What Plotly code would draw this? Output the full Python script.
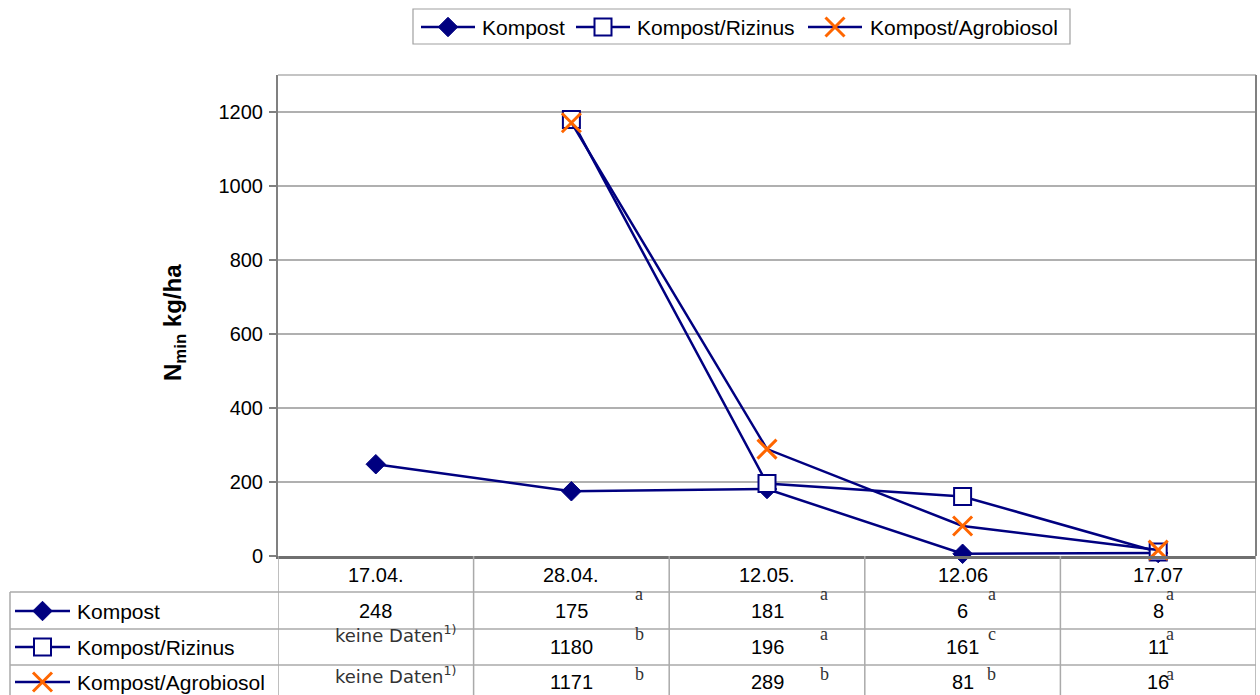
import plotly.graph_objects as go

# ---------------- data ----------------
dates = ["17.04.", "28.04.", "12.05.", "12.06", "17.07"]
series_names = ["Kompost", "Kompost/Rizinus", "Kompost/Agrobiosol"]
kompost = [248, 175, 181, 6, 8]
rizinus = [None, 1180, 196, 161, 11]
agrobiosol = [None, 1171, 289, 81, 16]
letters_kompost = [None, "a", "a", "a", "a"]
letters_rizinus = [None, "b", "a", "c", "a"]
letters_agrobiosol = [None, "b", "b", "b", "a"]
no_data_text = "keine Daten<sup>1)</sup>"
y_title = "<b>N<sub>min</sub> kg/ha</b>"
y_ticks = [0, 200, 400, 600, 800, 1000, 1200]

# ---------------- styling / layout helpers ----------------
W, H = 1260, 695          # design coordinates (target picture)
FIG_H = 706               # page is shown slightly compressed vertically
NAVY = "#000080"
ORANGE = "#FF6600"
GRID = "#b0b0b0"
TGRID = "#aaaaaa"
AXIS = "#808080"
FONT = "Liberation Sans, Arial, sans-serif"
SERIF = "Liberation Serif, Times New Roman, serif"


def px(x):
    return x / W


def py(y):
    return 1 - y / H


plot_left, plot_right, plot_top, plot_bottom = 278, 1256, 75, 556
row_lines = [592, 629, 665]
row_centers = [611, 647, 682]
sup_y = [594, 634, 674]
nodata_y = [None, 634, 675]
sup_dx = [0, 68, 57, 29, 12]  # pixel offset of significance letters per column
col_w = (plot_right - plot_left) / 5

values = [kompost, rizinus, agrobiosol]
letters = [letters_kompost, letters_rizinus, letters_agrobiosol]

marker_styles = [
    dict(symbol="diamond", size=15, color=NAVY, line=dict(color=NAVY, width=1)),
    dict(symbol="square", size=17, color="white", line=dict(color=NAVY, width=2)),
    dict(symbol="x-thin", size=19, color=ORANGE, line=dict(color=ORANGE, width=3)),
]

fig = go.Figure()

for name, vals, ms in zip(series_names, values, marker_styles):
    fig.add_trace(go.Scatter(
        x=list(range(len(dates))), y=vals, name=name,
        mode="lines+markers",
        line=dict(color=NAVY, width=2.5),
        marker=ms, cliponaxis=False, connectgaps=False, showlegend=False,
    ))

annotations = []
shapes = []

# ---- legend (top box) and table keys drawn on a pixel-coordinate overlay ----
legend_keys = [(421, 475, 480), (576, 630, 635), (808, 862, 868)]
legend_y = 27
shapes.append(dict(type="rect", xref="paper", yref="paper", x0=px(413), x1=px(1070),
                   y0=py(9), y1=py(44), line=dict(color="#a0a0a0", width=1.2),
                   fillcolor="white", layer="below"))


def key(x0, x1, yc, ms):
    fig.add_trace(go.Scatter(
        x=[x0, x1], y=[yc, yc], mode="lines", line=dict(color=NAVY, width=2.5),
        xaxis="x2", yaxis="y2", showlegend=False, hoverinfo="skip", cliponaxis=False,
    ))
    fig.add_trace(go.Scatter(
        x=[(x0 + x1) / 2], y=[yc], mode="markers", marker=ms,
        xaxis="x2", yaxis="y2", showlegend=False, hoverinfo="skip", cliponaxis=False,
    ))


for (x0, x1, tx), name, ms in zip(legend_keys, series_names, marker_styles):
    key(x0, x1, legend_y, ms)
    annotations.append(dict(x=px(tx), y=py(legend_y), xref="paper", yref="paper",
                            text=name, showarrow=False,
                            font=dict(family=FONT, size=21, color="black"),
                            xanchor="left", yanchor="middle"))

for i, (name, ms) in enumerate(zip(series_names, marker_styles)):
    key(15, 70, row_centers[i], ms)
    annotations.append(dict(x=px(75), y=py(row_centers[i]), xref="paper", yref="paper",
                            text=name, showarrow=False,
                            font=dict(family=FONT, size=21, color="black"),
                            xanchor="left", yanchor="middle"))

# y axis title
annotations.append(dict(x=px(175), y=py(323), xref="paper", yref="paper",
                        text=y_title, textangle=-90, showarrow=False,
                        font=dict(family=FONT, size=24, color="black"),
                        xanchor="center", yanchor="middle"))

# date header
for i, d in enumerate(dates):
    annotations.append(dict(x=i, y=py(575), xref="x", yref="paper", text=d,
                            showarrow=False, font=dict(family=FONT, size=20, color="black"),
                            xanchor="center", yanchor="middle"))

# table values
for r, (vals, lets) in enumerate(zip(values, letters)):
    for c, v in enumerate(vals):
        if v is None:
            annotations.append(dict(x=c + 20 / col_w, y=py(nodata_y[r]), xref="x", yref="paper",
                                    text=no_data_text, showarrow=False,
                                    font=dict(family="DejaVu Sans, sans-serif", size=18, color="#333333"),
                                    xanchor="center", yanchor="middle"))
        else:
            annotations.append(dict(x=c, y=py(row_centers[r]), xref="x", yref="paper",
                                    text=str(v), showarrow=False,
                                    font=dict(family=FONT, size=20, color="black"),
                                    xanchor="center", yanchor="middle"))
        if lets[c]:
            annotations.append(dict(x=c + sup_dx[c] / col_w, y=py(sup_y[r]), xref="x", yref="paper",
                                    text=lets[c], showarrow=False,
                                    font=dict(family=SERIF, size=18, color="#333333"),
                                    xanchor="center", yanchor="middle"))

# table grid
for k in range(6):
    shapes.append(dict(type="line", xref="x", yref="paper", x0=k - 0.5, x1=k - 0.5,
                       y0=py(plot_bottom), y1=0, line=dict(color=TGRID, width=1.5)))
for yl in row_lines:
    shapes.append(dict(type="line", xref="paper", yref="paper", x0=px(10), x1=px(plot_right),
                       y0=py(yl), y1=py(yl), line=dict(color=TGRID, width=1.5)))
shapes.append(dict(type="line", xref="paper", yref="paper", x0=px(10), x1=px(10),
                   y0=py(row_lines[0]), y1=0, line=dict(color=TGRID, width=1.5)))

# top (light) and right (darker) plot borders
shapes.append(dict(type="line", xref="paper", yref="paper", x0=px(plot_left), x1=px(plot_right),
                   y0=py(plot_top), y1=py(plot_top), line=dict(color=GRID, width=1.5)))
shapes.append(dict(type="line", xref="paper", yref="paper", x0=px(plot_right), x1=px(plot_right),
                   y0=py(plot_top), y1=py(plot_bottom), line=dict(color=AXIS, width=2)))

fig.update_layout(
    width=W, height=FIG_H,
    margin=dict(l=0, r=0, t=0, b=0),
    paper_bgcolor="white", plot_bgcolor="rgba(0,0,0,0)",
    font=dict(family=FONT, size=20, color="black"),
    showlegend=False,
    xaxis=dict(domain=[px(plot_left), px(plot_right)], range=[-0.5, 4.5],
               showticklabels=False, ticks="", showgrid=False, zeroline=False,
               showline=True, linecolor="#707070", linewidth=2.5, mirror=False),
    yaxis=dict(domain=[py(plot_bottom), py(plot_top)], range=[0, 1300],
               tickvals=y_ticks, ticks="outside", ticklen=7, tickcolor=AXIS, tickwidth=1.5,
               tickfont=dict(family=FONT, size=20, color="black"), ticklabelstandoff=2,
               showgrid=True, gridcolor=GRID, gridwidth=1.5, zeroline=False,
               showline=True, linecolor=AXIS, linewidth=2, mirror=False),
    xaxis2=dict(domain=[0, 1], range=[0, W], visible=False, anchor="y2", fixedrange=True),
    yaxis2=dict(domain=[0, 1], range=[H, 0], visible=False, anchor="x2", fixedrange=True),
    annotations=annotations,
    shapes=shapes,
)

fig.write_html("out.html", config={"displayModeBar": False},
               post_script="document.body.style.margin='0px';document.body.style.overflow='hidden';")
